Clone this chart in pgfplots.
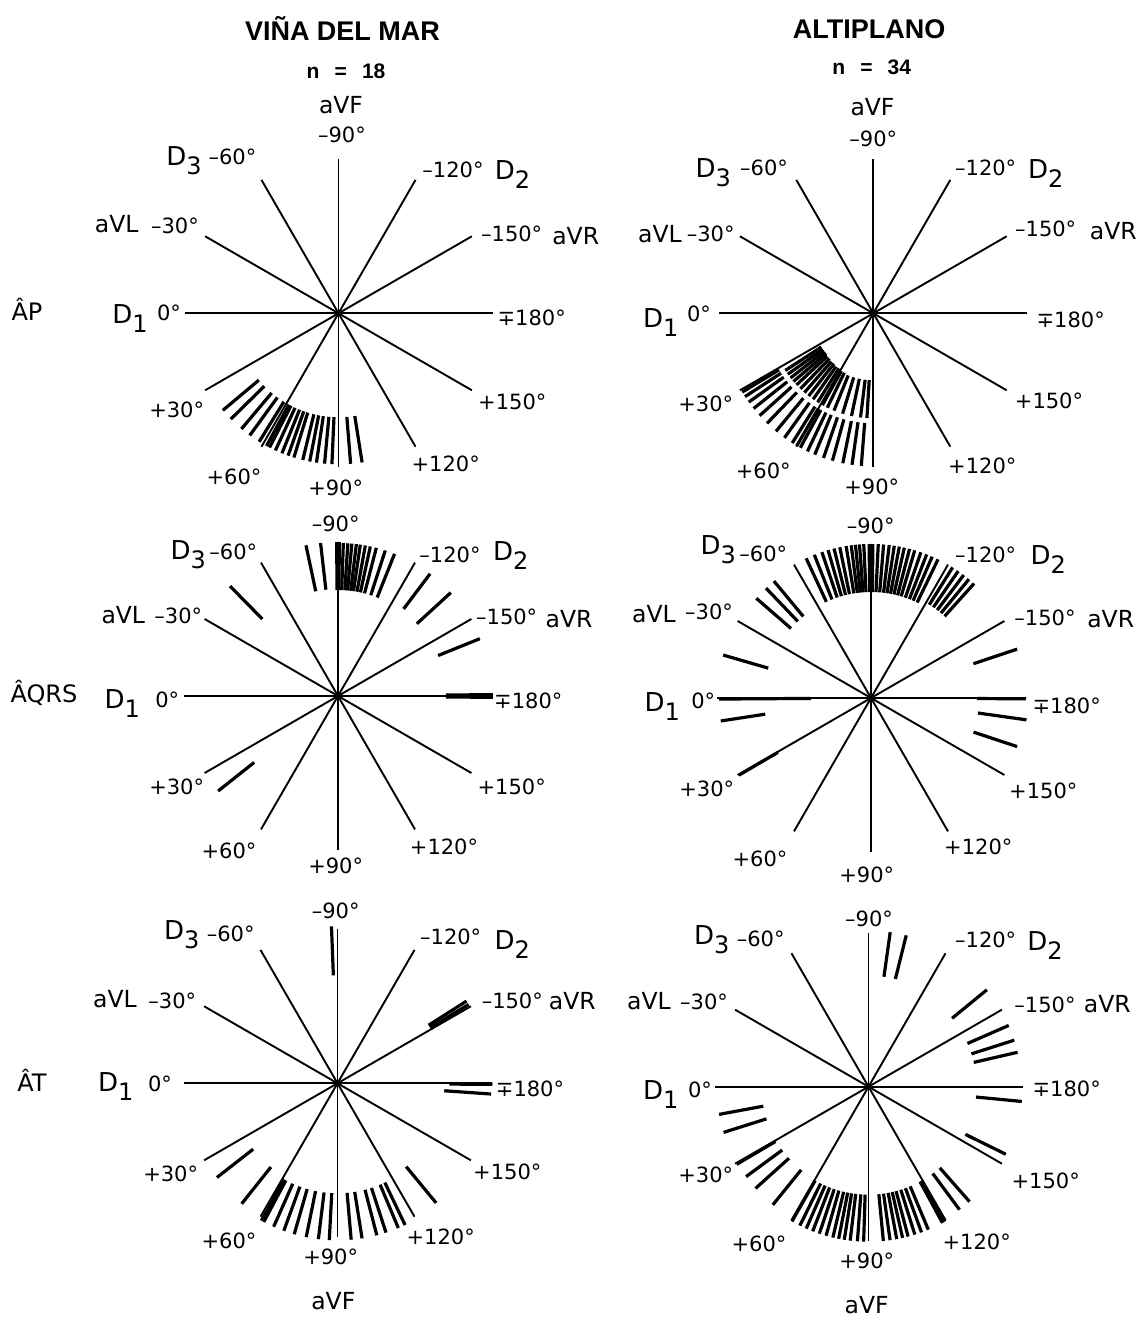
\documentclass[border=0pt]{standalone}
\usepackage{pgfplots}
\pgfplotsset{compat=1.18}
\usepackage{pgfplotstable}
\usepackage{fontspec}
\setmainfont{DejaVu Sans}
\newfontfamily\tfont{Liberation Sans}

% hexaxial spokes: angle (deg, ECG convention), inner and outer radius (px)
\pgfplotstableread{
a r1 r2
0 0 154
30 0 154
60 0 154
90 0 154
120 0 154
150 0 154
180 0 154
210 0 154
240 0 154
270 0 154
300 0 154
330 0 154
}\spokes

% AP Vina del Mar
\pgfplotstableread{
a r1 r2
40 104 151
44.5 104 151
50 104 151
54 104 151
58.3 104 151
61.5 104 151
62.8 104 151
65.3 104 151
68 104 151
70.5 104 151
72.8 104 151
76.3 104 151
79 104 151
81.6 104 151
84.7 104 151
87.5 104 151
94.6 104 151
99 104 151
}\dA

% AP Altiplano
\pgfplotstableread{
a r1 r2
31 110 153
33 110 153
35.5 110 153
38.5 110 153
42 110 153
46 110 153
50.5 110 153
54.5 110 153
58 110 153
60 110 153
61.5 110 153
64.5 110 153
67.5 110 153
71 110 153
74.5 110 153
78.5 110 153
82 110 153
85.5 110 153
33 62 105
35.5 62 105
38 62 105
40.5 62 105
43 63 105
46 63 105
49 64 105
52 64 105
55 65 105
58 65 105
61 66 105
64 66 105
68 67 105
73 67 105
78 67 105
83 67 105
86.5 67 105
}\dB

% AQRS Vina del Mar
\pgfplotstableread{
a r1 r2
-78 107 154
-83.5 107 154
-89.5 106 154
-90.5 106 154
-92 106 153
-93.7 106 153
-95.2 106 153
-96.9 106 153
-98.4 106 153
-100.3 106 153
-102.2 106 153
-104.5 106 153
-108 106 153
-111.7 106 153
-45.5 108 154
-127 109 153
-137.5 107 153
-158 108 153
179.5 108 155
-179.5 108 155
38.4 107 153
}\dC

% AQRS Altiplano
\pgfplotstableread{
a r1 r2
-65.1 106 154
-68.4 106 154
-71.4 106 154
-73.8 106 154
-76.1 106 154
-78.3 106 154
-80.7 106 154
-82.6 106 154
-84.2 106 154
-85.7 106 154
-87.3 106 154
-89.3 106 154
-90.7 106 154
-92.7 106 154
-94.7 106 154
-96.8 106 154
-98.7 106 154
-100.6 106 154
-102.5 106 154
-104.5 106 154
-106.5 106 154
-108.9 106 154
-111.2 106 154
-113.4 106 154
-115.8 106 154
-122 110 154
-124.5 110 154
-127 110 154
-129.5 110 154
-132 110 154
-41 106 152
-46.3 106 152
-50.3 106 152
-16.2 107 154
8.7 107 152
-161.5 108 154
172 108 157
161.6 108 154
30.3 108 153
179.7 106 155
0.4 60 152
}\dD

% AT Vina del Mar
\pgfplotstableread{
a r1 r2
-87.8 108 157
-147.5 108 153
-149 108 153
176 107 154
179.6 112 155
38 107 153
51.5 107 154
61 110 157
62 110 157
66 110 157
70 110 157
74 110 157
78.5 110 157
83 110 157
87 110 157
95 110 157
99 110 157
104.5 110 157
108 110 157
112.8 110 157
115.5 110 157
129.5 108 155
}\dE

% AT Altiplano
\pgfplotstableread{
a r1 r2
-98 111 156
-104 111 156
-140.7 108 153
-156.4 108 153
-162.3 108 153
-167 108 153
174.5 108 154
153.8 108 153
10.5 107 152
17.5 107 152
30.5 108 153
36.3 107 152
42 107 152
51 107 152
60.4 108 155
63.7 108 155
66.3 108 155
68.9 108 155
71.5 108 155
74.1 108 155
76.7 108 155
78.9 108 155
81 108 155
83.2 108 155
85.9 108 155
88.2 108 155
95.5 108 155
98 108 155
100.5 108 155
102.7 108 155
104.8 108 155
107.4 108 155
110 108 155
112.7 108 155
118.5 108 155
119.5 108 155
126.5 108 153
131.3 108 153
}\dF

\newcommand{\panel}[3]{%
  \addplot[black, line width=1.9pt, line cap=butt, no markers, -,
    quiver={u={-cos(\thisrow{a})*(\thisrow{r2}-\thisrow{r1})},
            v={-sin(\thisrow{a})*(\thisrow{r2}-\thisrow{r1})}}]
    table[x expr={#1-cos(\thisrow{a})*\thisrow{r1}},
          y expr={-#2-sin(\thisrow{a})*\thisrow{r1}}] {\spokes};
  \addplot[black, line width=3.2pt, line cap=butt, no markers, -,
    quiver={u={-cos(\thisrow{a})*(\thisrow{r2}-\thisrow{r1})},
            v={-sin(\thisrow{a})*(\thisrow{r2}-\thisrow{r1})}}]
    table[x expr={#1-cos(\thisrow{a})*\thisrow{r1}},
          y expr={-#2-sin(\thisrow{a})*\thisrow{r1}}] {#3};
  \addplot[black, only marks, mark=*, mark size=3pt] coordinates {(#1,-#2)};
}
\newcommand{\Lg}[3]{\node[font=\fontsize{21}{22}\selectfont] at (axis cs:#1,-#2) {#3};}
\newcommand{\La}[3]{\node[font=\fontsize{23.5}{24}\selectfont] at (axis cs:#1,-#2) {#3};}
\newcommand{\Ld}[3]{\node[font=\fontsize{26}{26}\selectfont] at (axis cs:#1,-#2) {D\raisebox{-9pt}{\fontsize{24}{24}\selectfont #3}};}
\newcommand{\Lr}[3]{\node[font=\fontsize{24}{26}\selectfont] at (axis cs:#1,-#2) {#3};}

\begin{document}
\begin{tikzpicture}
\begin{axis}[scale only axis, width=1145pt, height=1318pt,
  xmin=0, xmax=1145, ymin=-1318, ymax=0, hide axis, clip=false]

\panel{338.5}{313.3}{\dA}
\panel{873.3}{313.3}{\dB}
\panel{338}{696}{\dC}
\panel{871}{698}{\dD}
\panel{337.5}{1083.3}{\dE}
\panel{868.5}{1086.7}{\dF}

% titles
\node[font=\tfont\bfseries\fontsize{27}{30}\selectfont] at (axis cs:342.5,-28) {VIÑA DEL MAR};
\node[font=\tfont\bfseries\fontsize{21}{24}\selectfont] at (axis cs:346,-71) {n\ \ \,=\ \ \,18};
\node[font=\tfont\bfseries\fontsize{27}{30}\selectfont] at (axis cs:869,-29) {ALTIPLANO};
\node[font=\tfont\bfseries\fontsize{21}{24}\selectfont] at (axis cs:871.7,-67.5) {n\ \ \,=\ \ \,34};

% row labels
\Lr{27}{309}{ÂP}
\Lr{44}{693}{ÂQRS}
\Lr{32}{1080}{ÂT}

% panel 1
\La{341}{105}{aVF}
\Lg{342}{135}{–90°}
\Ld{184}{161}{3}
\Lg{232.5}{157}{–60°}
\Lg{453}{170}{–120°}
\Ld{512.5}{175}{2}
\La{116.7}{224}{aVL}
\Lg{175}{225.7}{–30°}
\Lg{511.7}{234}{–150°}
\La{575.7}{235.7}{aVR}
\Ld{130}{318.3}{1}
\Lg{169}{313.3}{0°}
\Lg{531.7}{318.3}{∓180°}
\Lg{176.7}{410}{+30°}
\Lg{512.3}{402}{+150°}
\Lg{234}{477.3}{+60°}
\Lg{335.7}{488.3}{+90°}
\Lg{445.7}{464}{+120°}

% panel 2
\La{872.5}{107.5}{aVF}
\Lg{873.3}{139}{–90°}
\Ld{713.3}{172.5}{3}
\Lg{764}{167.5}{–60°}
\Lg{985.7}{167.5}{–120°}
\Ld{1045.7}{173.5}{2}
\La{660}{234}{aVL}
\Lg{710.7}{234}{–30°}
\Lg{1045.7}{229}{–150°}
\La{1113.3}{230.7}{aVR}
\Ld{660.7}{322.3}{1}
\Lg{699}{314}{0°}
\Lg{1070.7}{320}{∓180°}
\Lg{705.7}{404}{+30°}
\Lg{1049}{400.7}{+150°}
\Lg{763.3}{470.7}{+60°}
\Lg{871.7}{487.3}{+90°}
\Lg{982.3}{465.7}{+120°}

% panel 3
\Lg{335.7}{524}{–90°}
\Ld{188.3}{555}{3}
\Lg{233.3}{552.3}{–60°}
\Lg{450}{555}{–120°}
\Ld{510.7}{555.7}{2}
\La{123.3}{615.3}{aVL}
\Lg{178.3}{615.7}{–30°}
\Lg{506.7}{617.3}{–150°}
\La{569}{619}{aVR}
\Ld{122.3}{703.3}{1}
\Lg{167.3}{700}{0°}
\Lg{528.3}{700.7}{∓180°}
\Lg{176.7}{787.3}{+30°}
\Lg{511.7}{787.3}{+150°}
\Lg{229}{850.7}{+60°}
\Lg{335.7}{865.7}{+90°}
\Lg{444}{846.7}{+120°}

% panel 4
\Lg{870.7}{525.7}{–90°}
\Ld{718.3}{550}{3}
\Lg{763.3}{554}{–60°}
\Lg{985.7}{555}{–120°}
\Ld{1048.3}{560}{2}
\La{654}{614}{aVL}
\Lg{709}{612.3}{–30°}
\Lg{1045}{618.3}{–150°}
\La{1110.7}{619}{aVR}
\Ld{662.3}{706.7}{1}
\Lg{703.3}{700.7}{0°}
\Lg{1066.7}{705.7}{∓180°}
\Lg{706.7}{789}{+30°}
\Lg{1043.3}{790.7}{+150°}
\Lg{760}{859}{+60°}
\Lg{866.7}{875}{+90°}
\Lg{978.3}{847.3}{+120°}

% panel 5
\Lg{335.7}{910.7}{–90°}
\Ld{181.7}{935}{3}
\Lg{230.7}{934}{–60°}
\Lg{450.7}{936.7}{–120°}
\Ld{512.3}{945}{2}
\La{115}{999}{aVL}
\Lg{172.3}{1000.7}{–30°}
\Lg{512.3}{1000.7}{–150°}
\La{572.3}{1000.7}{aVR}
\Ld{115.7}{1086.7}{1}
\Lg{160}{1084}{0°}
\Lg{530}{1089}{∓180°}
\Lg{170.7}{1174}{+30°}
\Lg{507.3}{1172.3}{+150°}
\Lg{229}{1240.7}{+60°}
\Lg{330.7}{1257.3}{+90°}
\Lg{440.7}{1236.7}{+120°}
\La{333.3}{1300.7}{aVF}

% panel 6
\Lg{869}{919}{–90°}
\Ld{711.7}{940}{3}
\Lg{760.7}{939}{–60°}
\Lg{985.7}{940}{–120°}
\Ld{1045}{945.7}{2}
\La{649}{1000.7}{aVL}
\Lg{704}{1002.3}{–30°}
\Lg{1045}{1005}{–150°}
\La{1107.3}{1004}{aVR}
\Ld{660.7}{1095}{1}
\Lg{700}{1090}{0°}
\Lg{1066.7}{1089}{∓180°}
\Lg{705.7}{1175}{+30°}
\Lg{1045.7}{1180.7}{+150°}
\Lg{759}{1244}{+60°}
\Lg{866.7}{1260.7}{+90°}
\Lg{976.7}{1241.7}{+120°}
\La{866.7}{1305}{aVF}

\end{axis}
\pgfresetboundingbox
\path (current axis.south west) rectangle (current axis.north east);
\end{tikzpicture}
\end{document}
